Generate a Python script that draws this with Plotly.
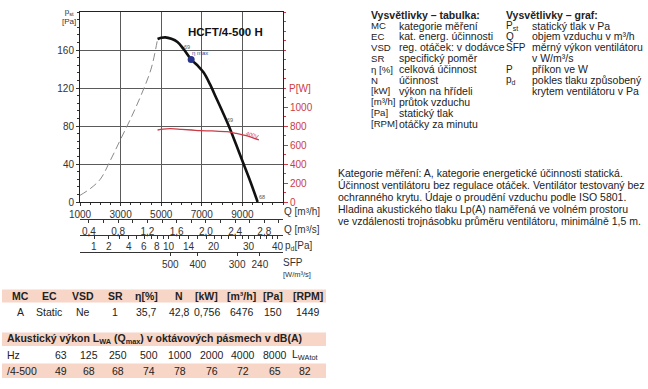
import plotly.graph_objects as go

W, H = 648, 389

# ---------------- data ----------------
q_dash = [1000, 1500, 2000, 2500, 3000, 3500, 4000, 4500, 4820]
p_dash = [7, 14, 24, 44, 66, 88, 112, 140, 171.5]

q_curve = [4820, 5000, 5200, 5500, 5800, 6100, 6476, 6800, 7100, 7400, 7700, 8000, 8330, 8700, 9040, 9400, 9750]
p_curve = [171.5, 172.8, 173.3, 171.8, 168.5, 161, 150, 143.5, 136, 124, 110, 96, 80, 60, 41, 21, 0]

q_power = [4820, 5100, 5446, 6000, 6500, 6928, 7500, 8247, 8700, 9235, 9810]
p_power = [758, 768, 772, 765, 758, 751, 748, 740, 722, 695, 653]

q_opt, p_opt = [6476], [150]

q_ticks = [1000, 3000, 5000, 7000, 9000]
y_ticks = [0, 40, 80, 120, 160]
pw_ticks = [0, 200, 400, 600, 800, 1000]

qs_labeled = [0.4, 0.8, 1.2, 1.6, 2.0, 2.4, 2.8]
qs_minor = [0.6, 1.0, 1.4, 1.8, 2.2, 2.6, 3.0]

pd_labeled = [1, 2, 4, 6, 8, 10, 14, 20, 30, 40]
pd_minor = [3, 5, 7, 9, 12, 16, 18, 22, 24, 26, 28, 32, 34, 36, 38]
pd_q_at_1pa = 1700  # m3/h at which p_d = 1 Pa (p_d grows with Q^2)

sfp_labels = ["500", "400", "300", "240"]
sfp_q = [5450, 6800, 8740, 9860]

t1_head = ["MC", "EC", "VSD", "SR", "η[%]", "N", "[kW]", "[m³/h]", "[Pa]", "[RPM]"]
t1_vals = ["A", "Static", "Ne", "1", "35,7", "42,8", "0,756", "6476", "150", "1449"]

t2_title = "Akustický výkon L<sub>WA</sub> (Q<sub>max</sub>) v oktávových pásmech v dB(A)"
t2_hz = ["63", "125", "250", "500", "1000", "2000", "4000", "8000", "L<sub>WAtot</sub>"]
t2_vals = ["49", "68", "68", "74", "78", "76", "72", "65", "82"]

leg_tab = [("MC", "kategorie měření"), ("EC", "kat. energ. účinnosti"),
           ("VSD", "reg. otáček: v dodávce"), ("SR", "specifický poměr"),
           ("η [%]", "celková účinnost"), ("N", "účinnost"),
           ("[kW]", "výkon na hřídeli"), ("[m³/h]", "průtok vzduchu"),
           ("[Pa]", "statický tlak"), ("[RPM]", "otáčky za minutu")]
leg_graf = [("P<sub>st</sub>", "statický tlak v Pa"), ("Q", "objem vzduchu v m³/h"),
            ("SFP", "měrný výkon ventilátoru"), ("", "v W/m³/s"),
            ("P", "příkon ve W"), ("p<sub>d</sub>", "pokles tlaku způsobený"),
            ("", "krytem ventilátoru v Pa")]
para = ["Kategorie měření: A, kategorie energetické účinnosti statická.",
        "Účinnost ventilátoru bez regulace otáček. Ventilátor testovaný bez",
        "ochranného krytu. Údaje o proudění vzduchu podle ISO 5801.",
        "Hladina akustického tlaku Lp(A) naměřená ve volném prostoru",
        "ve vzdálenosti trojnásobku průměru ventilátoru, minimálně 1,5 m."]

# ---------------- helpers ----------------
def px(x):
    return x / W

def py(y):
    return 1 - y / H

FONT = "Liberation Sans, Arial, sans-serif"
TXT = "#222222"
RED = "#cc3b45"
SALMON = "#f7d6c7"

fig = go.Figure()

fig.add_trace(go.Scatter(x=q_dash, y=p_dash, mode="lines",
                         line=dict(color="#8a8a8a", width=1, dash="8px,4px", shape="spline"), hoverinfo="skip"))
fig.add_trace(go.Scatter(x=q_power, y=p_power, mode="lines", yaxis="y2",
                         line=dict(color=RED, width=1.3, shape="spline"), hoverinfo="skip"))
fig.add_trace(go.Scatter(x=q_curve, y=p_curve, mode="lines",
                         line=dict(color="#111111", width=2.6, shape="spline"), hoverinfo="skip"))
fig.add_trace(go.Scatter(x=q_opt, y=p_opt, mode="markers",
                         marker=dict(color="#27348b", size=7), hoverinfo="skip"))
# dummy traces to register extra scale axes
for ax in ["x2", "x3", "x4"]:
    fig.add_trace(go.Scatter(x=[1000, 11000], y=[0, 0], xaxis=ax, mode="lines",
                             line=dict(width=0), opacity=0, hoverinfo="skip"))

xdom = [px(80), px(283)]
ydom = [py(202), py(12)]
tickfont = dict(family=FONT, size=10, color="#333333")

def scale_axis(pos, major, labels, minor_vals, show_labels=True):
    return dict(overlaying="x", anchor="free", position=py(pos), range=[1000, 11000],
                tickmode="array", tickvals=major, ticktext=labels, showgrid=False,
                showticklabels=show_labels,
                zeroline=False, showline=True, linecolor="#333", ticks="outside", ticklen=3,
                tickcolor="#333", tickfont=tickfont, side="bottom", ticklabeloverflow="allow",
                minor=dict(tickmode="array", tickvals=minor_vals, ticks="outside", ticklen=3,
                           tickcolor="#333", showgrid=False))

pd_q_major = [pd_q_at_1pa * v ** 0.5 for v in pd_labeled]

fig.update_layout(
    width=W, height=H, margin=dict(l=0, r=0, t=0, b=0, autoexpand=False),
    paper_bgcolor="white", plot_bgcolor="white", showlegend=False,
    font=dict(family=FONT, color=TXT),
    xaxis=dict(domain=xdom, range=[1000, 11000], tickvals=q_ticks, ticktext=[str(v) for v in q_ticks],
               showgrid=True, gridcolor="#5a5a5a", gridwidth=0.8, showline=True, linecolor="#222",
               linewidth=1, mirror=True, ticks="outside", ticklen=3, tickcolor="#333",
               minor=dict(dtick=500, tick0=1000, ticks="outside", ticklen=2, tickcolor="#333", showgrid=False),
               tickfont=tickfont, zeroline=False, anchor="y", ticklabeloverflow="allow"),
    yaxis=dict(domain=ydom, range=[0, 200], tickvals=y_ticks, showgrid=True, gridcolor="#5a5a5a",
               gridwidth=0.8, showline=True, linecolor="#222", linewidth=1, mirror=True,
               ticks="outside", ticklen=3, tickcolor="#333",
               minor=dict(dtick=8, ticks="outside", ticklen=2, tickcolor="#333", showgrid=False),
               tickfont=tickfont, zeroline=False, anchor="x"),
    yaxis2=dict(overlaying="y", side="right", range=[0, 2000], tickvals=pw_ticks, showgrid=False,
                zeroline=False, showline=False, ticks="outside", ticklen=4, tickcolor=RED,
                minor=dict(dtick=100, ticks="outside", ticklen=2, tickcolor=RED),
                tickfont=dict(family=FONT, size=10, color=RED), anchor="x"),
    xaxis2=scale_axis(219, [v * 3600 for v in qs_labeled], [f"{v:.1f}".replace(".", ",") for v in qs_labeled],
                      [v * 3600 for v in qs_minor]),
    xaxis3=scale_axis(235, pd_q_major, [str(v) for v in pd_labeled],
                      [pd_q_at_1pa * v ** 0.5 for v in pd_minor], show_labels=False),
    xaxis4=scale_axis(252, sfp_q, sfp_labels, []),
)

ann = []
def A(x, y, text, size=10.5, color=TXT, xanchor="left", bold=False, ref="paper", **kw):
    if bold:
        text = "<b>" + text + "</b>"
    d = dict(text=text, showarrow=False, font=dict(family=FONT, size=size, color=color),
             xanchor=xanchor, yanchor="middle")
    if ref == "paper":
        d.update(x=px(x), y=py(y), xref="paper", yref="paper")
    elif ref == "xpaper":
        d.update(x=x, y=py(y), xref="x", yref="paper")
    else:
        d.update(x=x, y=y, xref="x", yref="y")
    d.update(kw)
    ann.append(d)

# p_d scale labels (placed on the shared Q scale)
for q, v in zip(pd_q_major, pd_labeled):
    A(q, 246, str(v), size=10, color="#333", xanchor="center", ref="xpaper")

# chart labels
A(60, 17, "p<sub>st</sub><br>[Pa]", size=8, color="#333", xanchor="left")
A(287, 88, "P[W]", size=10, color=RED)
A(282, 212, "Q [m³/h]", size=10, color="#333")
A(282, 229, "Q [m³/s]", size=10, color="#333")
A(283, 246, "p<sub>d</sub>[Pa]", size=10, color="#333")
A(281, 262, "SFP", size=10, color="#333")
A(281, 274, "[W/m³/s]", size=7.5, color="#333")
A(8150, 179, "HCFT/4-500 H", size=11.5, color="#111", xanchor="center", bold=True, ref="data")
A(6270, 163, "69", size=5.5, color="#555", xanchor="center", ref="data")
A(6930, 157, "η max", size=6, color="#3a4a9a", xanchor="center", ref="data")
A(8410, 86, "69", size=5.5, color="#555", xanchor="center", ref="data")
A(9480, 71, "400V", size=5.5, color=RED, xanchor="center", ref="data", textangle=18)
A(9980, 5, "68", size=5.5, color="#555", xanchor="center", ref="data")

# table 1
centers1 = [20.7, 49.3, 82.7, 115, 146.7, 179, 206.7, 241.7, 272.7, 308.3]
for c, h, v in zip(centers1, t1_head, t1_vals):
    A(c, 296, h, size=10.5, xanchor="center", bold=True)
    A(c, 312, v, size=10.5, xanchor="center")

# table 2
A(5, 339, t2_title, size=10.5, bold=True)
A(5, 355, "Hz", size=10.5)
A(5, 371, "/4-500", size=10.5)
centers2 = [61, 89.3, 118.3, 149, 180, 211.7, 243.3, 275, 305]
for c, h, v in zip(centers2, t2_hz, t2_vals):
    A(c, 355, h, size=10.5, xanchor="center")
    A(c, 371, v, size=10.5, xanchor="center")

# legends
A(369, 15, "Vysvětlivky – tabulka:", size=10.5, bold=True)
for i, (k, v) in enumerate(leg_tab):
    y = 25.5 + i * 10.9
    A(369, y, k, size=9.6)
    A(397, y, v)
A(504, 15, "Vysvětlivky – graf:", size=10.5, bold=True)
for i, (k, v) in enumerate(leg_graf):
    y = 25.5 + i * 10.9
    if k:
        A(504, y, k, size=10)
    A(530, y, v)
for i, line in enumerate(para):
    A(336, 173 + i * 12, line)

shapes = []
for (y0, y1) in [(289.5, 302.5), (332.5, 346), (363.5, 378)]:
    shapes.append(dict(type="rect", xref="paper", yref="paper", x0=px(2), x1=px(326),
                       y0=py(y1), y1=py(y0), fillcolor=SALMON, line=dict(width=0), layer="below"))

fig.update_layout(annotations=ann, shapes=shapes)
fig.write_html("out.html", config={"displayModeBar": False},
               post_script="document.body.style.margin='0px';document.body.style.overflow='hidden';")
